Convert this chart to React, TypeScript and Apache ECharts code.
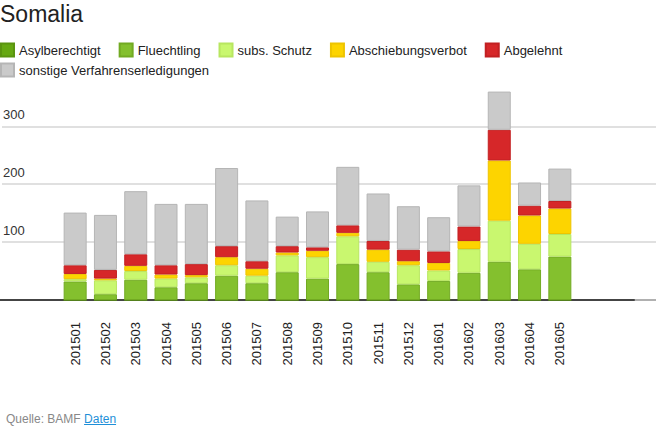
import React, { useEffect, useRef } from "react";
import * as echarts from "echarts";

const categories = [
  "201501", "201502", "201503", "201504", "201505", "201506", "201507", "201508", "201509",
  "201510", "201511", "201512", "201601", "201602", "201603", "201604", "201605",
];
const asylberechtigt = [0, 0, 0, 0, 0, 0, 0, 0, 0, 0, 0, 0, 0, 0, 0, 0, 0];
const fluechtling = [32, 10, 35, 22, 29, 42, 29, 48, 37, 62, 48, 27, 33, 47, 66, 53, 75];
const subsSchutz = [4, 24, 15, 15, 10, 18, 13, 29, 37, 48, 18, 33, 18, 41, 71, 44, 39];
const abschiebungsverbot = [9, 3, 9, 7, 4, 14, 12, 5, 11, 6, 21, 7, 13, 14, 104, 49, 44];
const abgelehnt = [15, 15, 20, 16, 19, 19, 13, 11, 6, 13, 15, 20, 20, 25, 53, 17, 13];
const sonstige = [91, 95, 109, 106, 104, 135, 105, 51, 62, 101, 82, 75, 59, 71, 66, 40, 56];
const yTicks = [100, 200, 300];

const FONT = "'Liberation Sans', Arial, Helvetica, sans-serif";

export default function App() {
  const ref = useRef<HTMLDivElement>(null);
  useEffect(() => {
    document.body.style.margin = "0";
    if (!ref.current) return;
    const chart = echarts.init(ref.current, undefined, { renderer: "svg" });
    const mk = (name: string, data: number[], color: string, border: string) => ({
      name,
      type: "bar",
      stack: "total",
      data,
      xAxisIndex: 2,
      yAxisIndex: 2,
      barWidth: 23,
      itemStyle: { color, borderColor: border, borderWidth: 1 },
      emphasis: { disabled: true },
    });
    const common = { top: 80, bottom: 134 };
    const hiddenY = (i: number) => ({
      type: "value", gridIndex: i, min: 0, max: 380, show: false,
    });
    const legendBase = {
      left: 0,
      padding: 0,
      itemWidth: 13,
      itemHeight: 13,
      itemGap: 18,
      icon: "rect",
      textStyle: { fontSize: 13, color: "#222", fontFamily: FONT },
      selectedMode: false,
    };
    chart.setOption({
      animation: false,
      textStyle: { fontFamily: FONT },
      title: {
        text: "Somalia",
        left: 0,
        top: 2,
        padding: 0,
        textStyle: { fontSize: 23, fontWeight: "normal", color: "#222", fontFamily: FONT },
      },
      legend: [
        {
          ...legendBase,
          top: 42.5,
          data: ["Asylberechtigt", "Fluechtling", "subs. Schutz", "Abschiebungsverbot", "Abgelehnt"],
        },
        {
          ...legendBase,
          top: 62.5,
          data: ["sonstige Verfahrenserledigungen"],
        },
      ],
      grid: [
        { left: 0, right: 0, ...common },
        { left: 0, right: 22, ...common },
        { left: 60, right: 81, ...common },
      ],
      xAxis: [
        {
          type: "value", gridIndex: 0, min: 0, max: 1,
          axisLine: { show: true, lineStyle: { color: "#b0b0b0", width: 2 } },
          axisTick: { show: false }, axisLabel: { show: false }, splitLine: { show: false },
        },
        {
          type: "value", gridIndex: 1, min: 0, max: 1,
          axisLine: { show: true, lineStyle: { color: "#444", width: 2 } },
          axisTick: { show: false }, axisLabel: { show: false }, splitLine: { show: false },
        },
        {
          type: "category", gridIndex: 2, data: categories,
          axisLine: { show: false }, axisTick: { show: false },
          axisLabel: { rotate: 90, margin: 22, fontSize: 13, color: "#222", fontFamily: FONT, interval: 0 },
        },
      ],
      yAxis: [
        {
          type: "value", gridIndex: 0, min: 0, max: 380, interval: 100,
          axisLine: { show: false }, axisTick: { show: false },
          splitLine: { show: true, showMinLine: false, showMaxLine: false, lineStyle: { color: "#e0e0e0", width: 2 } },
          axisLabel: {
            inside: true, margin: 1, fontSize: 13, color: "#333", fontFamily: FONT,
            verticalAlign: "bottom", padding: [0, 0, 5, 0],
            showMinLabel: false, showMaxLabel: false,
            formatter: (v: number) => (yTicks.includes(v) ? String(v) : ""),
          },
        },
        hiddenY(1),
        hiddenY(2),
      ],
      series: [
        mk("Asylberechtigt", asylberechtigt, "#66a812", "#5a9410"),
        mk("Fluechtling", fluechtling, "#84c02e", "#72aa22"),
        mk("subs. Schutz", subsSchutz, "#c9f76f", "#b8e660"),
        mk("Abschiebungsverbot", abschiebungsverbot, "#fdd400", "#eec400"),
        mk("Abgelehnt", abgelehnt, "#d62729", "#c22022"),
        mk("sonstige Verfahrenserledigungen", sonstige, "#cacaca", "#b5b5b5"),
      ],
    });
    return () => chart.dispose();
  }, []);
  return (
    <div style={{ position: "relative", width: 656, height: 434 }}>
      <div ref={ref} style={{ width: 656, height: 434 }} />
      <div
        style={{
          position: "absolute", left: 6, top: 412, fontSize: 12, color: "#888",
          fontFamily: FONT,
        }}
      >
        Quelle: BAMF{" "}
        <a href="#" style={{ color: "#1e8fd8", textDecoration: "underline" }}>Daten</a>
      </div>
    </div>
  );
}
